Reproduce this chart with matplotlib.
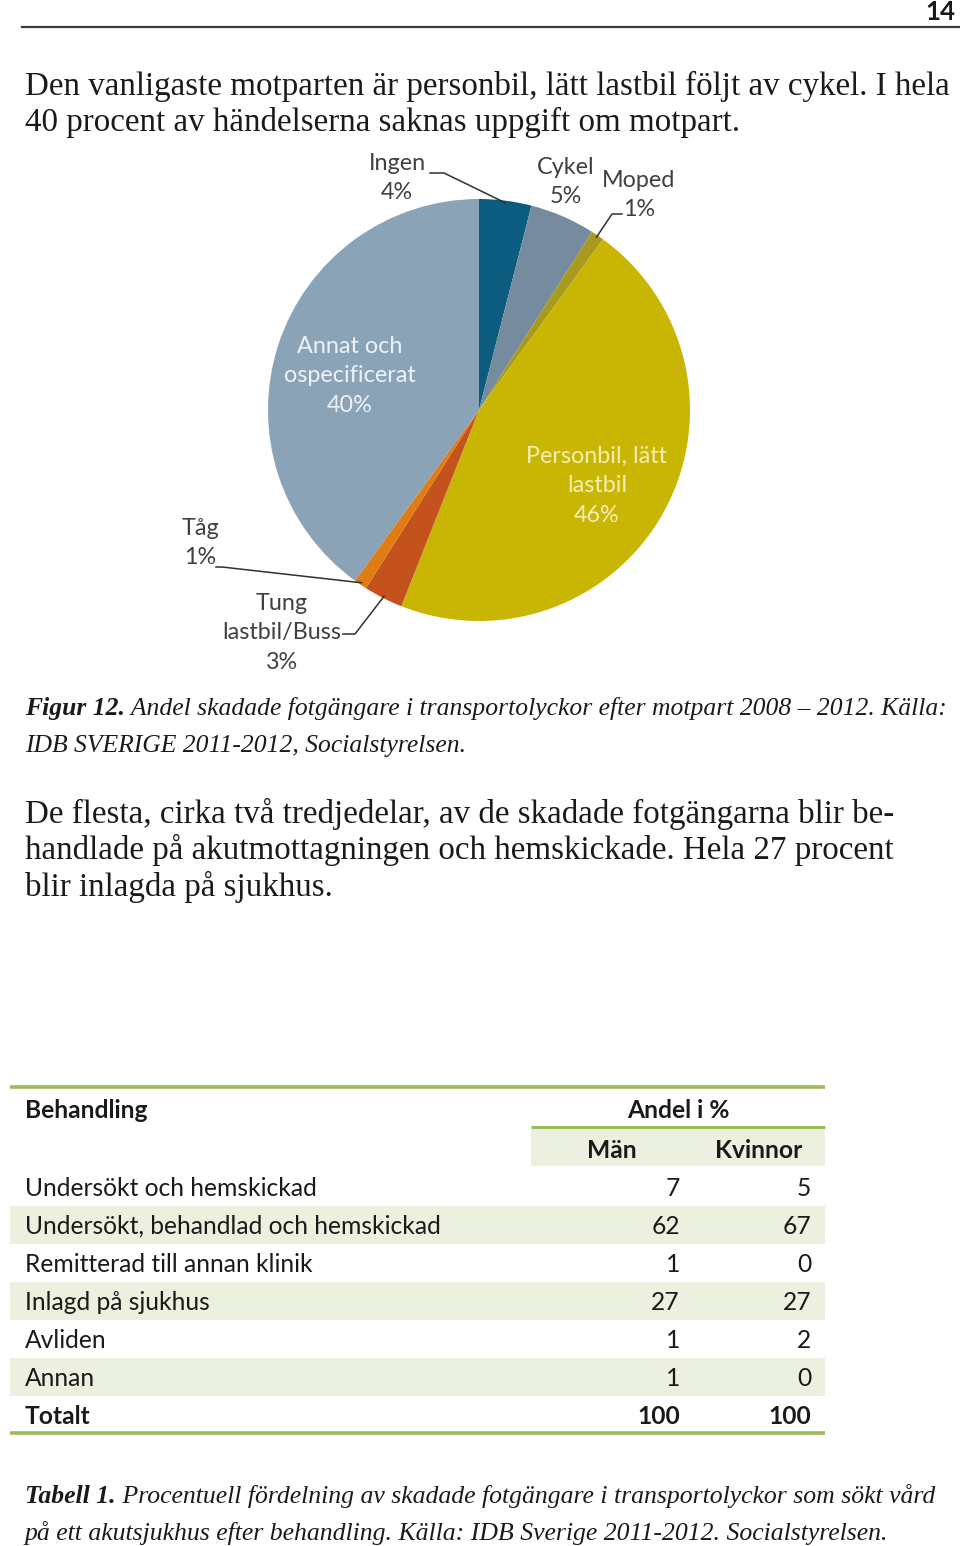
import matplotlib
matplotlib.use("Agg")
import matplotlib.pyplot as plt
import numpy as np
from matplotlib.patches import Rectangle

# --- data -------------------------------------------------------------
pie_labels = ["Ingen", "Cykel", "Moped", "Personbil, lätt\nlastbil",
              "Tung\nlastbil/Buss", "Tåg", "Annat och\nospecificerat"]
pie_shares = [4, 5, 1, 46, 3, 1, 40]
pie_colors = ["#0c5c80", "#768c9e", "#a99a1e", "#c9b604",
              "#c4521c", "#e07c14", "#8aa3b7"]

row_labels = ["Undersökt och hemskickad", "Undersökt, behandlad och hemskickad",
              "Remitterad till annan klinik", "Inlagd på sjukhus", "Avliden", "Annan"]
men = [7, 62, 1, 27, 1, 1]
women = [5, 67, 0, 27, 2, 0]
total_label = "Totalt"
totals = [100, 100]
col_labels = ["Män", "Kvinnor"]

para1 = ["Den vanligaste motparten är personbil, lätt lastbil följt av cykel. I hela",
         "40 procent av händelserna saknas uppgift om motpart."]
para2 = ["De flesta, cirka två tredjedelar, av de skadade fotgängarna blir be-",
         "handlade på akutmottagningen och hemskickade. Hela 27 procent",
         "blir inlagda på sjukhus."]
cap1 = ("Figur 12.", [" Andel skadade fotgängare i transportolyckor efter motpart 2008 – 2012. Källa:",
                      "IDB SVERIGE 2011-2012, Socialstyrelsen."])
cap2 = ("Tabell 1.", [" Procentuell fördelning av skadade fotgängare i transportolyckor som sökt vård",
                      "på ett akutsjukhus efter behandling. Källa: IDB Sverige 2011-2012. Socialstyrelsen."])

# --- page -------------------------------------------------------------
W, H = 960, 1546
fig = plt.figure(figsize=(W / 100, H / 100), dpi=100)
page = fig.add_axes([0, 0, 1, 1])
page.set_xlim(0, W)
page.set_ylim(H, 0)
page.axis("off")
page.set_zorder(2)  # texts over the pie
renderer = fig.canvas.get_renderer()

SERIF = "Liberation Serif"
SANS = "Lato"
INK = "#1a1a1a"


def text_width(s, size, **kw):
    t = page.text(0, 0, s, fontsize=size, **kw)
    w = t.get_window_extent(renderer).width
    t.remove()
    return w


def fit(s, target, **kw):
    # font size that makes s span target pixels
    return 20 * target / text_width(s, 20, **kw)


# header
page.text(955, 20, "14", fontsize=fit("14", 30, family=SANS, weight="bold"),
          family=SANS, weight="bold", ha="right", va="baseline", color=INK)
page.plot([22, 960], [27, 27], color="#3a3a3a", lw=1.6)

# body paragraphs
fs_body = fit(para1[0], 927, family=SERIF)
for i, line in enumerate(para1):
    page.text(25, 95 + 36.5 * i, line, family=SERIF, fontsize=fs_body,
              va="baseline", color=INK)
for i, line in enumerate(para2):
    page.text(25, 823 + 36.5 * i, line, family=SERIF, fontsize=fs_body,
              va="baseline", color=INK)


def caption(head, lines, y0, width):
    w_head = text_width(head, 20, family=SERIF, weight="bold", style="italic")
    w_rest = text_width(lines[0], 20, family=SERIF, style="italic")
    fs = 20 * width / (w_head + w_rest)
    page.text(25, y0, head, family=SERIF, weight="bold", style="italic",
              fontsize=fs, va="baseline", color=INK)
    page.text(25 + w_head * fs / 20, y0, lines[0], family=SERIF, style="italic",
              fontsize=fs, va="baseline", color=INK)
    page.text(25, y0 + 37, lines[1], family=SERIF, style="italic",
              fontsize=fs, va="baseline", color=INK)


caption(cap1[0], cap1[1], 715, 921)
caption(cap2[0], cap2[1], 1503, 913)

# --- pie --------------------------------------------------------------
cx, cy, r = 479, 410, 211
ax_pie = fig.add_axes([(cx - r) / W, 1 - (cy + r) / H, 2 * r / W, 2 * r / H])
ax_pie.set_zorder(1)
wedges, _ = ax_pie.pie(pie_shares, colors=pie_colors, startangle=90,
                       counterclock=False, radius=1,
                       wedgeprops=dict(linewidth=0))
ax_pie.set_xlim(-1, 1)
ax_pie.set_ylim(-1, 1)
ax_pie.axis("off")


def edge_point(w, frac=1.0):
    a = np.deg2rad((w.theta1 + w.theta2) / 2)
    return cx + r * frac * np.cos(a), cy - r * frac * np.sin(a)


fs_pie = fit("ospecificerat", 132, family=SANS)
ls_pie = 1.17 * 30.5 / (fs_pie * 100 / 72)
label_pos = [(397, 178), (566, 182), (639, 195), (597, 486),
             (282, 633), (200, 543), (350, 376)]
label_col = ["#404040"] * 3 + ["#f4eeb4", "#404040", "#404040", "#eef2f6"]
for lab, share, (lx, ly), col in zip(pie_labels, pie_shares, label_pos, label_col):
    page.text(lx, ly, f"{lab}\n{share}%", family=SANS, fontsize=fs_pie,
              ha="center", va="center", linespacing=ls_pie, color=col)

# leader lines
leaders = {0: [(430, 173), (444, 173)],
           2: [(622, 214), (612, 214)],
           4: [(343, 634), (355, 634)],
           5: [(216, 567), (222, 567)]}
for idx, pts in leaders.items():
    ex, ey = edge_point(wedges[idx], 0.99)
    xs = [p[0] for p in pts] + [ex]
    ys = [p[1] for p in pts] + [ey]
    page.plot(xs, ys, color="#303030", lw=1.1)

# --- table ------------------------------------------------------------
GREEN = "#9bbb59"
BAND = "#ebf1de"
tx0, tx1 = 10, 825
sub_x0 = 531
row_h = 38
first_row = 1187
fs_tab = fit(row_labels[1], 417, family=SANS)
base = 9

page.plot([tx0, tx1], [1087, 1087], color=GREEN, lw=2.6, solid_capstyle="butt")
page.text(25, 1109 + base, "Behandling", family=SANS, weight="bold",
          fontsize=fs_tab, va="baseline", color=INK)
page.text(678, 1109 + base, "Andel i %", family=SANS, weight="bold",
          fontsize=fs_tab, ha="center", va="baseline", color=INK)
page.plot([sub_x0, tx1], [1127, 1127], color=GREEN, lw=2.2, solid_capstyle="butt")
page.add_patch(Rectangle((sub_x0, 1128.5), tx1 - sub_x0, 37.5, color=BAND, lw=0))
page.text(612, 1149 + base, col_labels[0], family=SANS, weight="bold",
          fontsize=fs_tab, ha="center", va="baseline", color=INK)
page.text(759, 1149 + base, col_labels[1], family=SANS, weight="bold",
          fontsize=fs_tab, ha="center", va="baseline", color=INK)

all_rows = list(zip(row_labels, men, women)) + [(total_label, totals[0], totals[1])]
for i, (lab, m, k) in enumerate(all_rows):
    yc = first_row + row_h * i
    if i % 2 == 1:
        page.add_patch(Rectangle((tx0, yc - row_h / 2), tx1 - tx0, row_h,
                                 color=BAND, lw=0))
    wt = "bold" if lab == total_label else "normal"
    page.text(25, yc + base, lab, family=SANS, weight=wt, fontsize=fs_tab,
              va="baseline", color=INK)
    page.text(680, yc + base, str(m), family=SANS, weight=wt, fontsize=fs_tab,
              ha="right", va="baseline", color=INK)
    page.text(811, yc + base, str(k), family=SANS, weight=wt, fontsize=fs_tab,
              ha="right", va="baseline", color=INK)
page.plot([tx0, tx1], [1433, 1433], color=GREEN, lw=2.6, solid_capstyle="butt")

fig.savefig("out.png", dpi=100)
